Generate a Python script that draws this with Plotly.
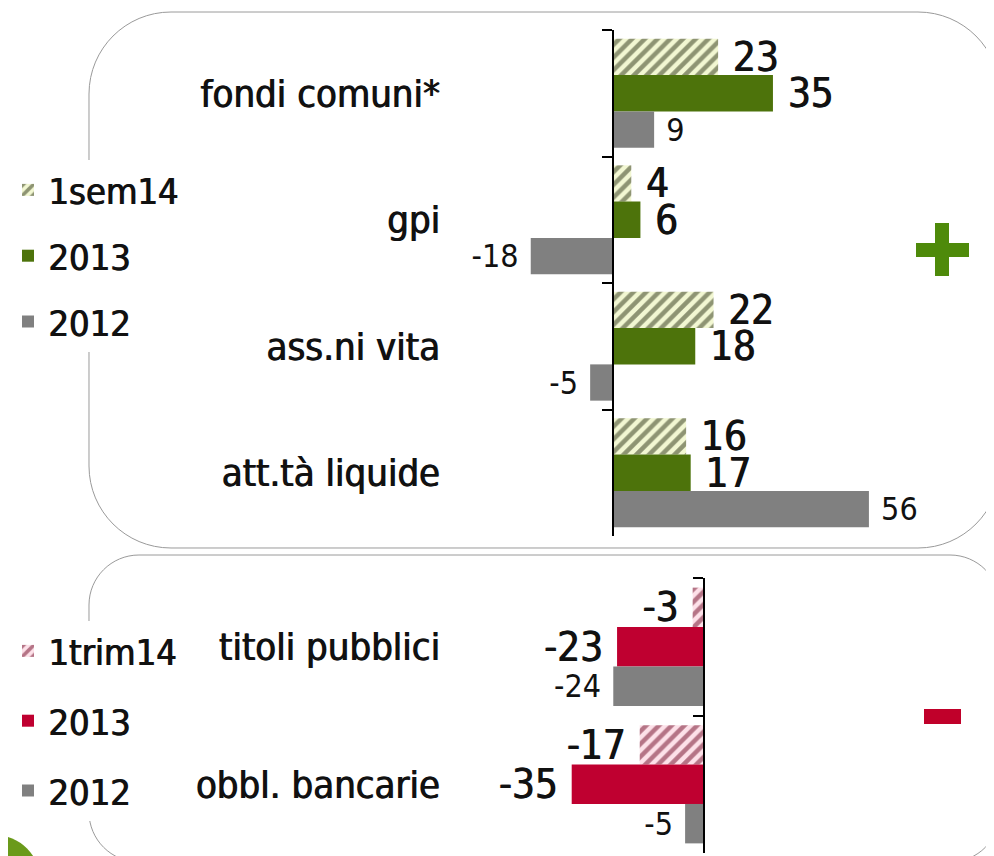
import plotly.graph_objects as go

# la pagina ha un margine di 8px: la figura parte da (8, 8)
OFF = 8
W, H = 994 - OFF, 856 - OFF

# dati: flussi netti (mld) - pannello positivo
cats_top = ["fondi comuni*", "gpi", "ass.ni vita", "att.tà liquide"]
sem14 = [23, 4, 22, 16]
anno2013_top = [35, 6, 18, 17]
anno2012_top = [9, -18, -5, 56]

# pannello negativo
cats_bot = ["titoli pubblici", "obbl. bancarie"]
trim14 = [-3, -17]
anno2013_bot = [-23, -35]
anno2012_bot = [-24, -5]

COND = "DejaVu Sans Condensed, Liberation Sans Narrow, DejaVu Sans"
INK = "#111111"
THICK = "1px 0px 0px #111111"  # un po' piu' di peso al testo
GREEN = "#4d730b"
RED = "#bf0030"
GRAY = "#808080"


def px(x):
    return (x - OFF) / W


def py(y):
    return 1 - (y - OFF) / H


def lab(vals):
    # spazio tra barra ed etichetta
    return [f"{v} " if v < 0 else f" {v}" for v in vals]


def rounded(x0, y0, x1, y1, r):
    k = 0.5523 * r
    p = [
        ("M", [(x0 + r, y0)]),
        ("L", [(x1 - r, y0)]),
        ("C", [(x1 - r + k, y0), (x1, y0 + r - k), (x1, y0 + r)]),
        ("L", [(x1, y1 - r)]),
        ("C", [(x1, y1 - r + k), (x1 - r + k, y1), (x1 - r, y1)]),
        ("L", [(x0 + r, y1)]),
        ("C", [(x0 + r - k, y1), (x0, y1 - r + k), (x0, y1 - r)]),
        ("L", [(x0, y0 + r)]),
        ("C", [(x0, y0 + r - k), (x0 + r - k, y0), (x0 + r, y0)]),
    ]
    s = ""
    for cmd, pts in p:
        s += cmd + " ".join(f"{px(a):.5f},{py(b):.5f}" for a, b in pts) + " "
    return s + "Z"


fig = go.Figure()

big = dict(size=40, family=COND, color=INK, shadow=THICK)
small = dict(size=32, family=COND, color=INK)

fig.add_trace(go.Bar(
    y=cats_top, x=sem14, orientation="h", name="1sem14",
    marker=dict(color="#f2f7d2", line_width=0,
                pattern=dict(shape="/", fgcolor="#2a3214", bgcolor="#f2f7d2",
                             size=9, solidity=0.5)),
    text=lab(sem14), textposition="outside", outsidetextfont=big,
    xaxis="x", yaxis="y", legend="legend", legendgroup="a",
))
fig.add_trace(go.Bar(
    y=cats_top, x=anno2013_top, orientation="h", name="2013",
    marker=dict(color=GREEN, line_width=0),
    text=lab(anno2013_top), textposition="outside", outsidetextfont=big,
    xaxis="x", yaxis="y", legend="legend", legendgroup="b",
))
fig.add_trace(go.Bar(
    y=cats_top, x=anno2012_top, orientation="h", name="2012",
    marker=dict(color=GRAY, line_width=0),
    text=lab(anno2012_top), textposition="outside", outsidetextfont=small,
    xaxis="x", yaxis="y", legend="legend", legendgroup="c",
))

fig.add_trace(go.Bar(
    y=cats_bot, x=trim14, orientation="h", name="1trim14",
    marker=dict(color="#fde1e9", line_width=0,
                pattern=dict(shape="/", fgcolor="#6e0824", bgcolor="#fde1e9",
                             size=9, solidity=0.5)),
    text=lab(trim14), textposition="outside", outsidetextfont=big,
    xaxis="x2", yaxis="y2", legend="legend2", legendgroup="d",
))
fig.add_trace(go.Bar(
    y=cats_bot, x=anno2013_bot, orientation="h", name="2013",
    marker=dict(color=RED, line_width=0),
    text=lab(anno2013_bot), textposition="outside", outsidetextfont=big,
    xaxis="x2", yaxis="y2", legend="legend2", legendgroup="e",
))
fig.add_trace(go.Bar(
    y=cats_bot, x=anno2012_bot, orientation="h", name="2012",
    marker=dict(color=GRAY, line_width=0),
    text=lab(anno2012_bot), textposition="outside", outsidetextfont=small,
    xaxis="x2", yaxis="y2", legend="legend2", legendgroup="f",
))

fig.update_traces(cliponaxis=False, constraintext="none")

yax = dict(type="category", autorange="reversed", anchor="free",
           showline=True, linecolor="black", linewidth=1.5,
           ticks="outside", ticklen=10, tickwidth=1.5, tickcolor="black",
           tickson="boundaries", showgrid=False, zeroline=False,
           tickfont=dict(size=38, family=COND, color=INK, shadow=THICK))

leg = dict(xanchor="left", yanchor="top", bgcolor="white",
           font=dict(size=36, family=COND, color=INK, shadow=THICK),
           itemclick=False, itemdoubleclick=False)

fig.update_layout(
    width=W, height=H, autosize=False,
    margin=dict(l=0, r=0, t=0, b=0),
    paper_bgcolor="white", plot_bgcolor="rgba(0,0,0,0)",
    barmode="group", bargap=0.14, bargroupgap=0,
    showlegend=True,
    xaxis=dict(domain=[px(450), 1], range=[-(613 - 450) / 4.57, (994 - 613) / 4.57],
               visible=False, anchor="y"),
    yaxis=dict(yax, domain=[py(536), py(30)], position=px(613), ticklabelstandoff=165),
    xaxis2=dict(domain=[px(450), 1], range=[-(704 - 450) / 3.78, (994 - 704) / 3.78],
                visible=False, anchor="y2"),
    yaxis2=dict(yax, domain=[py(853), py(578)], position=px(704), ticklabelstandoff=256),
    legend=dict(leg, x=px(8), y=py(160), tracegroupgap=16),
    legend2=dict(leg, x=px(8), y=py(621), tracegroupgap=20),
)

# riquadri arrotondati
fig.add_shape(type="path", xref="paper", yref="paper", layer="below",
              path=rounded(89, 12, 1000, 548, 82),
              line=dict(color="#9a9a9a", width=1))
fig.add_shape(type="path", xref="paper", yref="paper", layer="below",
              path=rounded(89, 555, 1000, 862, 50),
              line=dict(color="#9a9a9a", width=1))

# segni + e -
fig.add_shape(type="rect", xref="paper", yref="paper", line_width=0,
              fillcolor="#4e8a0a", x0=px(935), x1=px(949), y0=py(276), y1=py(223))
fig.add_shape(type="rect", xref="paper", yref="paper", line_width=0,
              fillcolor="#4e8a0a", x0=px(916), x1=px(969), y0=py(257), y1=py(243))
fig.add_shape(type="rect", xref="paper", yref="paper", line_width=0,
              fillcolor="#c0002a", x0=px(924), x1=px(961), y0=py(724), y1=py(709))

# cerchio verde in basso a sinistra
fig.add_shape(type="circle", xref="paper", yref="paper", line_width=0,
              fillcolor="#6a9a1a", x0=px(-50), x1=px(40), y0=py(925), y1=py(835))

fig.write_html("out.html")
